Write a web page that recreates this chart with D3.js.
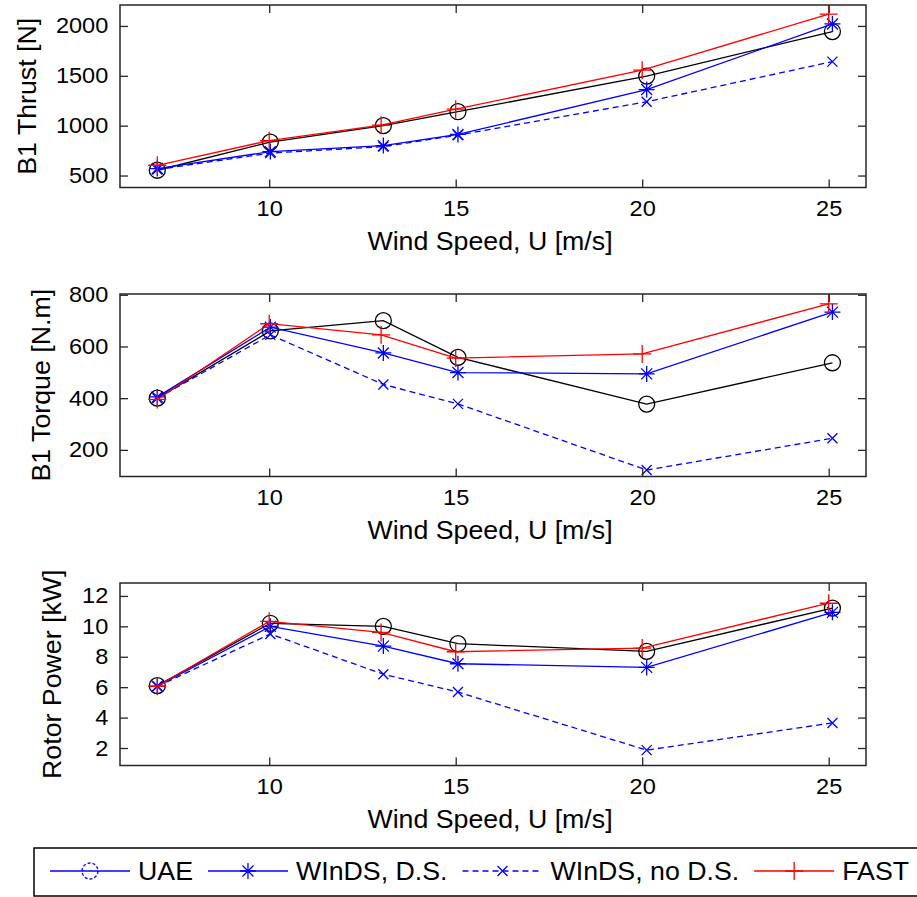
<!DOCTYPE html>
<html>
<head>
<meta charset="utf-8">
<script src="https://cdn.jsdelivr.net/npm/d3@7.9.0/dist/d3.min.js"></script>
<style>
  body { margin: 0; background: #fff; }
  text { font-family: "Liberation Sans", Arial, sans-serif; fill: #000; }
</style>
</head>
<body>
<svg id="chart" width="917" height="897"></svg>
<script>
// wind speeds (UAE and WInDS runs sit slightly right of the FAST ones)
const uaeSpeed = [7, 10.03, 13.06, 15.06, 20.12, 25.1];
const fastSpeed = [7, 10, 13, 15, 20, 25];
const xTicks = [10, 15, 20, 25];

// blade 1 thrust [N]
const uaeThrust = [553, 835, 1000, 1140, 1497, 1944];
const windsDsThrust = [570, 740, 800, 912, 1362, 2020];
const windsNoDsThrust = [560, 725, 790, 905, 1240, 1642];
const fastThrust = [603, 850, 1005, 1165, 1556, 2119];
const thrustTicks = [500, 1000, 1500, 2000];

// blade 1 torque [N.m]
const uaeTorque = [400, 660, 700, 558, 377, 537];
const windsDsTorque = [405, 675, 575, 499, 494, 733];
const windsNoDsTorque = [400, 645, 453, 378, 122, 245];
const fastTorque = [395, 688, 645, 555, 571, 765];
const torqueTicks = [200, 400, 600, 800];

// rotor power [kW]
const uaePower = [6.1, 10.2, 10.0, 8.86, 8.36, 11.2];
const windsDsPower = [6.06, 10.0, 8.7, 7.54, 7.3, 10.92];
const windsNoDsPower = [6.06, 9.5, 6.85, 5.68, 1.86, 3.65];
const fastPower = [6.06, 10.33, 9.6, 8.33, 8.57, 11.52];
const powerTicks = [2, 4, 6, 8, 10, 12];

const legendNames = ["UAE", "WInDS, D.S.", "WInDS, no D.S.", "FAST"];

const svg = d3.select("#chart");
const left = 120, right = 866, plotH = 182.5;
const stretch = 1.07; // the original's text runs a little wider than Liberation Sans
const x = d3.scaleLinear().domain([6, 26]).range([left, right]);

// marker shapes, drawn centred on 0,0
function markerPath(kind) {
  if (kind === "plus") return "M-9,0H9M0,-9V9";
  if (kind === "x") return "M-5,-5L5,5M-5,5L5,-5";
  if (kind === "star") return "M-8,0H8M0,-8V8M-5.5,-5.5L5.5,5.5M-5.5,5.5L5.5,-5.5";
  return null;
}

function drawMarker(g, kind, cx, cy, color, dash) {
  if (kind === "circle") {
    g.append("circle").attr("cx", cx).attr("cy", cy).attr("r", 8)
      .attr("fill", "none").attr("stroke", color).attr("stroke-width", 1.3)
      .attr("stroke-dasharray", dash || null);
  } else {
    g.append("path").attr("d", markerPath(kind))
      .attr("transform", `translate(${cx},${cy})`)
      .attr("fill", "none").attr("stroke", color).attr("stroke-width", 1.3);
  }
}

function drawPanel(cfg) {
  const top = cfg.top, bottom = top + plotH;
  const y = d3.scaleLinear().domain(cfg.domain).range([bottom, top]);
  const g = svg.append("g");

  const series = [
    { xs: uaeSpeed, ys: cfg.values[0], color: "#000", dash: null, marker: "circle" },
    { xs: uaeSpeed, ys: cfg.values[1], color: "#0000ff", dash: null, marker: "star" },
    { xs: uaeSpeed, ys: cfg.values[2], color: "#0000ff", dash: "6,4", marker: "x" },
    { xs: fastSpeed, ys: cfg.values[3], color: "#ff0000", dash: null, marker: "plus" }
  ];

  const line = d3.line().x(d => x(d[0])).y(d => y(d[1]));

  series.forEach(s => {
    const pts = s.xs.map((v, i) => [v, s.ys[i]]);
    g.append("path").attr("d", line(pts))
      .attr("fill", "none").attr("stroke", s.color).attr("stroke-width", 1.3)
      .attr("stroke-dasharray", s.dash);
    pts.forEach(p => drawMarker(g, s.marker, x(p[0]), y(p[1]), s.color));
  });

  // axes, ticks pointing inward on all four sides
  const ax = g.append("g").attr("class", "axes");
  ax.append("g").attr("transform", `translate(0,${bottom})`)
    .call(d3.axisBottom(x).tickValues(xTicks).tickFormat(d3.format("d"))
      .tickSizeInner(-8).tickSizeOuter(0).tickPadding(13));
  ax.append("g").attr("transform", `translate(0,${top})`)
    .call(d3.axisTop(x).tickValues(xTicks).tickSizeInner(-8).tickSizeOuter(0).tickFormat(""));
  ax.append("g").attr("transform", `translate(${left},0)`)
    .call(d3.axisLeft(y).tickValues(cfg.ticks).tickFormat(d3.format("d"))
      .tickSizeInner(-8).tickSizeOuter(0).tickPadding(11));
  ax.append("g").attr("transform", `translate(${right},0)`)
    .call(d3.axisRight(y).tickValues(cfg.ticks).tickSizeInner(-8).tickSizeOuter(0).tickFormat(""));
  ax.selectAll(".domain").remove();
  ax.selectAll(".tick line").attr("stroke", "#262626").attr("stroke-width", 1.3);
  ax.selectAll(".tick text").attr("font-size", 22).attr("font-family", null).attr("fill", "#000")
    .attr("transform", `scale(${stretch},1)`);

  g.append("rect").attr("x", left).attr("y", top)
    .attr("width", right - left).attr("height", plotH)
    .attr("fill", "none").attr("stroke", "#262626").attr("stroke-width", 1.5);

  g.append("text")
    .attr("transform", `translate(490,${bottom + 62}) scale(${stretch},1)`)
    .attr("text-anchor", "middle").attr("font-size", 25)
    .text("Wind Speed, U [m/s]");

  g.append("text")
    .attr("transform", `translate(${cfg.labelX},${(top + bottom) / 2}) rotate(-90) scale(${stretch},1)`)
    .attr("text-anchor", "middle").attr("font-size", 25)
    .text(cfg.label);
}

drawPanel({ top: 5, domain: [380, 2210], ticks: thrustTicks, label: "B1 Thrust [N]", labelX: 36,
  values: [uaeThrust, windsDsThrust, windsNoDsThrust, fastThrust] });
drawPanel({ top: 294, domain: [97, 803], ticks: torqueTicks, label: "B1 Torque [N.m]", labelX: 50,
  values: [uaeTorque, windsDsTorque, windsNoDsTorque, fastTorque] });
drawPanel({ top: 583, domain: [0.85, 12.85], ticks: powerTicks, label: "Rotor Power [kW]", labelX: 61,
  values: [uaePower, windsDsPower, windsNoDsPower, fastPower] });

// legend along the bottom
const legend = svg.append("g");
legend.append("rect").attr("x", 34).attr("y", 848).attr("width", 900).attr("height", 48)
  .attr("fill", "#fff").attr("stroke", "#000").attr("stroke-width", 1.5);

const legendStyle = [
  { color: "#0000ff", dash: null, marker: "circle", markerDash: "3,2" },
  { color: "#0000ff", dash: null, marker: "star" },
  { color: "#0000ff", dash: "6,4", marker: "x" },
  { color: "#ff0000", dash: null, marker: "plus" }
];
let lx = 50;
const ly = 871;
legendNames.forEach((name, i) => {
  const st = legendStyle[i];
  legend.append("line").attr("x1", lx).attr("x2", lx + 80).attr("y1", ly).attr("y2", ly)
    .attr("stroke", st.color).attr("stroke-width", 1.3).attr("stroke-dasharray", st.dash);
  drawMarker(legend, st.marker, lx + 40, ly, st.color, st.markerDash);
  const t = legend.append("text")
    .attr("transform", `translate(${lx + 88},${ly + 9}) scale(${stretch},1)`)
    .attr("font-size", 25).text(name);
  lx += 88 + t.node().getComputedTextLength() * stretch + 15;
});
</script>
</body>
</html>
